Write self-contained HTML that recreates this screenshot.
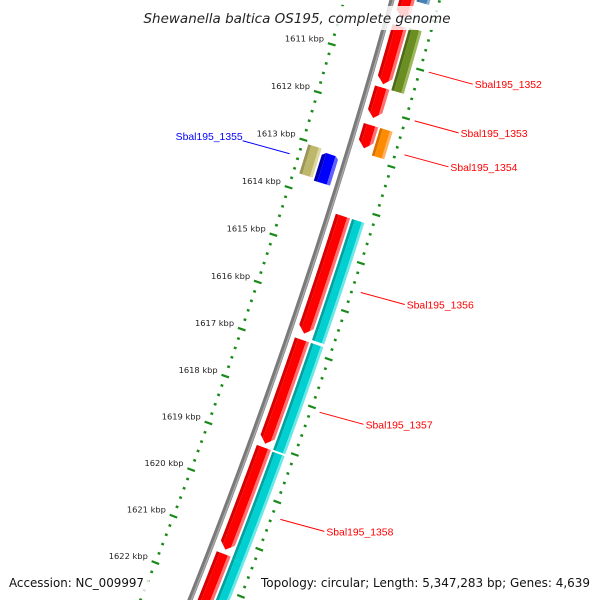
<!DOCTYPE html>
<html><head><meta charset="utf-8"><style>
html,body{margin:0;padding:0;background:#fff;width:600px;height:600px;overflow:hidden;}
svg{display:block;}
</style></head><body>
<svg id="map" width="600" height="600" viewBox="0 0 600 600" xmlns="http://www.w3.org/2000/svg">
<g id="rings"></g>
<g id="genes"></g>
<g id="labels"></g>
<rect x="142" y="6" width="316" height="24" fill="#fff" fill-opacity="0.82"/>
<text x="297" y="23" text-anchor="middle" font-family="DejaVu Sans, Liberation Sans, sans-serif" font-style="italic" font-size="13.5" textLength="307" lengthAdjust="spacingAndGlyphs" fill="#222">Shewanella baltica OS195, complete genome</text>
<rect x="5" y="573" width="144" height="20" fill="#fff" fill-opacity="0.82"/>
<text x="9" y="587" font-family="DejaVu Sans, Liberation Sans, sans-serif" font-size="12" textLength="135" lengthAdjust="spacingAndGlyphs" fill="#111">Accession: NC_009997</text>
<rect x="256" y="573" width="340" height="20" fill="#fff" fill-opacity="0.82"/>
<text x="261" y="587" font-family="DejaVu Sans, Liberation Sans, sans-serif" font-size="12" textLength="329" lengthAdjust="spacingAndGlyphs" fill="#111">Topology: circular; Length: 5,347,283 bp; Genes: 4,639</text>
</svg>
<script>
// ---- data ----
const tickStart = 1609;
const tickEnd = 1624;
const tickLabels = ["1611 kbp","1612 kbp","1613 kbp","1614 kbp","1615 kbp","1616 kbp","1617 kbp","1618 kbp","1619 kbp","1620 kbp","1621 kbp","1622 kbp"];
const tickLabelKbp = [1611,1612,1613,1614,1615,1616,1617,1618,1619,1620,1621,1622];
// forward strand genes (kbp start, end)
const fwdStarts = [1608.5, 1610.28, 1611.55, 1612.33, 1614.22, 1616.81, 1619.08, 1621.34];
const fwdEnds   = [1610.12, 1611.48, 1612.18, 1612.81, 1616.68, 1619.0, 1621.25, 1623.8];
// category ring boxes
const catStarts = [1608.5, 1610.26, 1612.33, 1614.22, 1616.81, 1619.1, 1621.38];
const catEnds   = [1609.72, 1611.55, 1612.9, 1616.75, 1619.06, 1621.38, 1623.8];
const catColors = ["steel","olive","orange","cyan","cyan","cyan","cyan"];
// reverse strand gene
const revStarts = [1613.04];
const revEnds = [1613.72];
const revCatStarts = [1613.06];
const revCatEnds = [1613.67];
const geneNames = ["Sbal195_1352","Sbal195_1353","Sbal195_1354","Sbal195_1355","Sbal195_1356","Sbal195_1357","Sbal195_1358"];
const geneLabelKbp = [1611.0, 1612.0, 1612.7, 1613.35, 1615.55, 1618.05, 1620.3];
const geneLabelSide = [1,1,1,-1,1,1,1];

// ---- geometry ----
const NS="http://www.w3.org/2000/svg";
function circ(p1,p2,p3){
  const [ax,ay]=p1,[bx,by]=p2,[cx,cy]=p3;
  const d=2*(ax*(by-cy)+bx*(cy-ay)+cx*(ay-by));
  const ux=((ax*ax+ay*ay)*(by-cy)+(bx*bx+by*by)*(cy-ay)+(cx*cx+cy*cy)*(ay-by))/d;
  const uy=((ax*ax+ay*ay)*(cx-bx)+(bx*bx+by*by)*(ax-cx)+(cx*cx+cy*cy)*(bx-ax))/d;
  return [ux,uy,Math.hypot(ax-ux,ay-uy)];
}
const [CX,CY,R]=circ([392,0],[321,237],[190,600]);
function angOfY(y){return Math.asin((y-CY)/R);}
const tA=angOfY(57), tB=angOfY(57+11*47.5);
function ang(k){return tA+(k-1611)*(tB-tA)/11;}
function P(k,d){const t=ang(k);return [CX+(R+d)*Math.cos(t),CY+(R+d)*Math.sin(t)];}
function f(p){return p[0].toFixed(2)+","+p[1].toFixed(2);}
function arcPts(k1,k2,d){const pts=[];const n=Math.max(2,Math.ceil(Math.abs(k2-k1)*4));for(let i=0;i<=n;i++)pts.push(P(k1+(k2-k1)*i/n,d));return pts;}
function mk(tag,attrs,parent){const e=document.createElementNS(NS,tag);for(const a in attrs)e.setAttribute(a,attrs[a]);parent.appendChild(e);return e;}

const rings=document.getElementById('rings');
const genes=document.getElementById('genes');
const labels=document.getElementById('labels');

// backbone
let e=mk('polyline',{points:arcPts(1608,1625,0).map(f).join(' '),fill:'none',stroke:'#7a7a7a','stroke-width':5},rings);


e=mk('polyline',{points:arcPts(1608,1625,1.2).map(f).join(' '),fill:'none',stroke:'#a8a8a8','stroke-width':1.5},rings);



// tick rings
for(const side of [-1,1]){
  for(let i=Math.round(tickStart*5);i<=tickEnd*5;i++){
    const k=i/5;const major=(i%5===0);
    const c=46*side, h=major?4:1.4;
    const a=P(k,c-h),b=P(k,c+h);
    const t=mk('line',{x1:a[0],y1:a[1],x2:b[0],y2:b[1],stroke:'#1a8a1a','stroke-width':major?2.2:2.4},rings);
    
    
  }
}
tickLabels.forEach((lab,i)=>{
  const p=P(tickLabelKbp[i],-53);
  const t=mk('text',{x:p[0]-1,y:p[1]-1,'text-anchor':'end','font-family':'DejaVu Sans, Liberation Sans, sans-serif','font-size':'8.3',fill:'#222'},rings);
  t.textContent=lab;
  
  
});

const pal={
  red:['#d80000','#ff0000','#ff7070'],
  cyan:['#00a2a2','#00d0d0','#6ae8e8'],
  olive:['#4f6b18','#6b8e23','#9bb85a'],
  orange:['#d97000','#ff8c00','#ffb060'],
  steel:['#356a96','#4682b4','#8ab0d4'],
  khaki:['#9c965a','#bdb76b','#ddd8a0'],
  blue:['#0000b0','#0000ff','#6060ff']
};
function band(k1,k2,d1,d2,color,name,arrowDir){
  const head=0.14;const g=mk('g',{},genes);
  
  
  const cols=pal[color];
  const parts=[[d1,d1+(d2-d1)*0.22,cols[0]],[d1+(d2-d1)*0.22,d2-(d2-d1)*0.2,cols[1]],[d2-(d2-d1)*0.2,d2,cols[2]]];
  const mid=(d1+d2)/2;
  parts.forEach(([a,b,c])=>{
    let sa=k1,sb=k1,ea=k2,eb=k2;
    function off(d){return head*(1-Math.abs(d-mid)/((d2-d1)/2));}
    if(arrowDir>0){ea=k2-head+off(a);eb=k2-head+off(b);}
    if(arrowDir<0){sa=k1+head-off(a);sb=k1+head-off(b);}
    const pts=[...arcPts(sa,ea,a),...(arrowDir>0&&a<mid&&b>mid?[P(k2,mid)]:[]),...arcPts(eb,sb,b)];
    mk('polygon',{points:pts.map(f).join(' '),fill:c},g);
  });
}
fwdStarts.forEach((s,i)=>band(s,fwdEnds[i],7,22,'red','forward-gene',1));
catStarts.forEach((s,i)=>band(s,catEnds[i],24,37,catColors[i],'category-box',0));
revStarts.forEach((s,i)=>band(s,revEnds[i],-24,-7,'blue','reverse-gene',-1));
revCatStarts.forEach((s,i)=>band(s,revCatEnds[i],-40,-26,'khaki','reverse-category-box',0));

geneNames.forEach((n,i)=>{
  const side=geneLabelSide[i];const k=geneLabelKbp[i];
  const a=side>0?P(k,55):P(k,-55);
  const col=side>0?'#ff0000':'#0000ff';
  let b,tx,ty,anchor;
  if(side>0){b=[a[0]+44,a[1]+12];tx=b[0]+2;ty=b[1]+4;anchor='start';}
  else{b=[a[0]-47,a[1]-13];tx=b[0];ty=b[1]-1;anchor='end';}
  const l=mk('line',{x1:a[0],y1:a[1],x2:b[0],y2:b[1],stroke:col,'stroke-width':1},labels);
  
  
  const t=mk('text',{x:tx,y:ty,'text-anchor':anchor,'font-family':'Liberation Sans, sans-serif','font-size':'10.5',fill:col,textLength:67,lengthAdjust:'spacingAndGlyphs'},labels);
  t.textContent=n;
  
  
});
</script>
</body></html>
